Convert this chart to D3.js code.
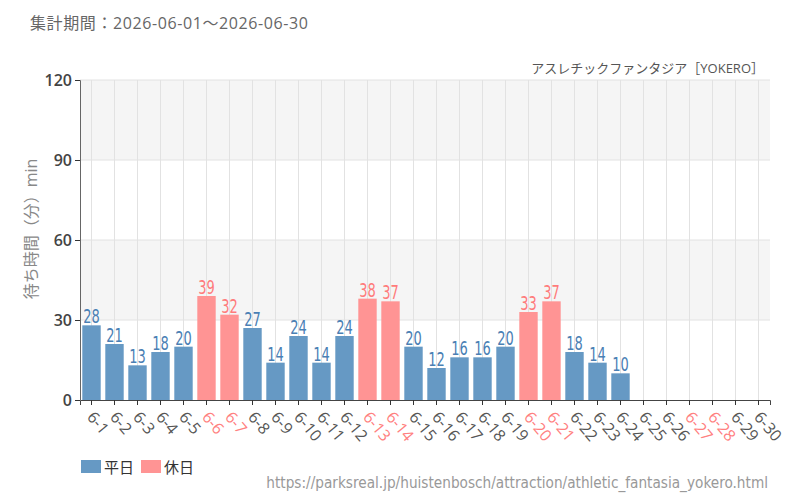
<!DOCTYPE html>
<html>
<head>
<meta charset="utf-8">
<script src="https://cdn.jsdelivr.net/npm/d3@7"></script>
<style>
  body { margin: 0; background: #fff; }
  svg { font-family: "Open Sans", "Noto Sans CJK JP", sans-serif; }
</style>
</head>
<body>
<svg id="chart"></svg>
<script>
const days = ["6-1","6-2","6-3","6-4","6-5","6-6","6-7","6-8","6-9","6-10","6-11","6-12","6-13","6-14","6-15",
  "6-16","6-17","6-18","6-19","6-20","6-21","6-22","6-23","6-24","6-25","6-26","6-27","6-28","6-29","6-30"]
const waits = [28,21,13,18,20,39,32,27,14,24,14,24,38,37,20,12,16,16,20,33,37,18,14,10,null,null,null,null,null,null]
const holidays = ["6-6","6-7","6-13","6-14","6-20","6-21","6-27","6-28"]
const yTicks = [0,30,60,90,120]
const legendItems = ["平日","休日"]

const dimensions = {
  width: 800, height: 500,
  margin: { top: 80, right: 30, bottom: 100, left: 80 },
}
const colors = { weekday: "#6699c4", holiday: "#ff9494" }
const labelColors = { weekday: "#4a80b4", holiday: "#ff7b7b" }
const narrow = "'Liberation Sans Narrow', 'DejaVu Sans Condensed', sans-serif"

const svg = d3.select("#chart").attr("width", dimensions.width).attr("height", dimensions.height)

const x = d3.scaleBand()
  .domain(days)
  .range([dimensions.margin.left, dimensions.width - dimensions.margin.right])
  .paddingInner(0.2)
  .paddingOuter(0.1)
const y = d3.scaleLinear()
  .domain([0, 120])
  .range([dimensions.height - dimensions.margin.bottom, dimensions.margin.top])

const isHoliday = (d) => holidays.includes(d)

// striped background
svg.append("g")
  .selectAll("rect")
  .data([[90, 120], [30, 60]])
  .join("rect")
  .attr("x", dimensions.margin.left)
  .attr("width", dimensions.width - dimensions.margin.right - dimensions.margin.left)
  .attr("y", (d) => y(d[1]))
  .attr("height", (d) => y(d[0]) - y(d[1]))
  .attr("fill", "#f5f5f5")

// grid
svg.append("g")
  .selectAll("line")
  .data(days)
  .join("line")
  .attr("x1", (d) => x(d) + x.bandwidth() / 2)
  .attr("x2", (d) => x(d) + x.bandwidth() / 2)
  .attr("y1", y(120))
  .attr("y2", y(0))
  .attr("stroke", "#e2e2e2")
svg.append("g")
  .selectAll("line")
  .data(yTicks.slice(1))
  .join("line")
  .attr("x1", dimensions.margin.left)
  .attr("x2", dimensions.width - dimensions.margin.right)
  .attr("y1", (d) => y(d))
  .attr("y2", (d) => y(d))
  .attr("stroke", "#e2e2e2")

// bars
const barData = days.map((d, i) => ({ day: d, value: waits[i] })).filter((d) => d.value != null)
svg.append("g")
  .selectAll("rect")
  .data(barData)
  .join("rect")
  .attr("x", (d) => x(d.day))
  .attr("width", x.bandwidth())
  .attr("y", (d) => y(d.value))
  .attr("height", (d) => y(0) - y(d.value))
  .attr("fill", (d) => isHoliday(d.day) ? colors.holiday : colors.weekday)

// value labels (tall condensed look)
svg.append("g")
  .selectAll("text")
  .data(barData)
  .join("text")
  .attr("transform", (d) => `translate(${x(d.day) + x.bandwidth() / 2}, ${y(d.value) - 2}) scale(0.85, 1.15)`)
  .attr("text-anchor", "middle")
  .attr("font-family", narrow)
  .attr("font-size", 17)
  .attr("fill", (d) => isHoliday(d.day) ? labelColors.holiday : labelColors.weekday)
  .text((d) => d.value)

// axes
const xAxis = svg.append("g")
  .attr("transform", `translate(0, ${y(0)})`)
  .call(d3.axisBottom(x).tickSizeOuter(0).tickSize(5))
xAxis.select(".domain").attr("stroke", "#444")
xAxis.selectAll(".tick line").attr("stroke", "#333")
xAxis.selectAll(".tick text")
  .attr("font-family", "'Open Sans', sans-serif")
  .attr("font-size", 16)
  .attr("fill", (d) => isHoliday(d) ? "#ff8080" : "#555")
  .attr("text-anchor", "start")
  .attr("y", 0)
  .attr("dy", "0.35em")
  .attr("transform", "translate(-1, 14) rotate(50)")

const yAxis = svg.append("g")
  .attr("transform", `translate(${dimensions.margin.left}, 0)`)
  .call(d3.axisLeft(y).tickValues(yTicks).tickSizeOuter(0).tickSize(5))
yAxis.select(".domain").attr("stroke", "#666")
yAxis.selectAll(".tick line").attr("stroke", "#333")
yAxis.selectAll(".tick text")
  .attr("font-family", "'Open Sans', sans-serif")
  .attr("font-size", 16)
  .attr("font-weight", 600)
  .attr("fill", "#444")

// texts
svg.append("text")
  .attr("x", 30).attr("y", 29)
  .attr("font-size", 16).attr("letter-spacing", 0.6).attr("fill", "#666")
  .text("集計期間：2026-06-01～2026-06-30")

svg.append("text")
  .attr("x", 764).attr("y", 73)
  .attr("text-anchor", "end")
  .attr("font-size", 13).attr("fill", "#555")
  .text("アスレチックファンタジア［YOKERO］")

svg.append("text")
  .attr("transform", `translate(37, 229) rotate(-90)`)
  .attr("text-anchor", "middle")
  .attr("font-size", 16).attr("fill", "#888")
  .text("待ち時間（分）min")

svg.append("text")
  .attr("x", 768).attr("y", 488)
  .attr("text-anchor", "end")
  .attr("font-family", narrow)
  .attr("font-size", 15.2).attr("fill", "#999")
  .text("https://parksreal.jp/huistenbosch/attraction/athletic_fantasia_yokero.html")

// legend
const legend = svg.append("g")
  .selectAll("g")
  .data(legendItems)
  .join("g")
  .attr("transform", (d, i) => `translate(${81 + i * 60}, 460)`)
legend.append("rect")
  .attr("width", 20).attr("height", 13)
  .attr("fill", (d, i) => i === 0 ? colors.weekday : colors.holiday)
legend.append("text")
  .attr("x", 23).attr("y", 13)
  .attr("font-size", 15).attr("fill", "#333")
  .text((d) => d)
</script>
</body>
</html>
